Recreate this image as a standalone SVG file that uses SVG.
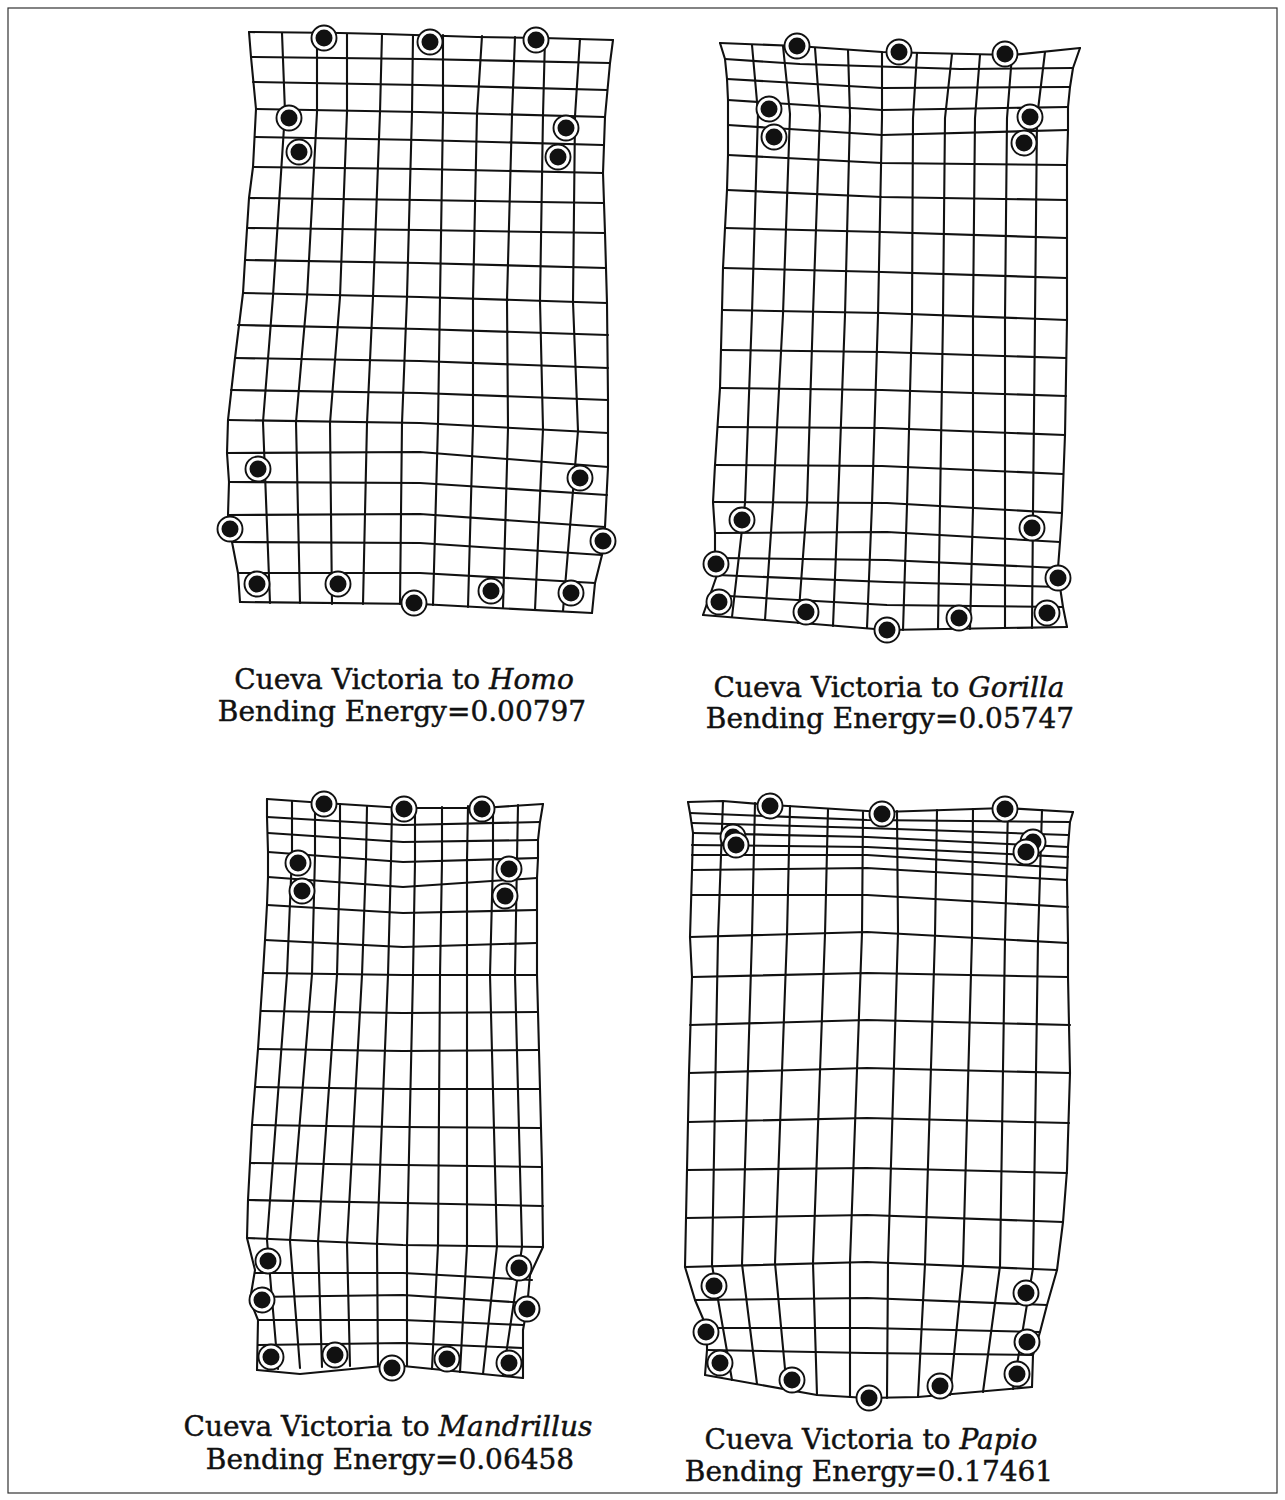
<svg xmlns="http://www.w3.org/2000/svg" xmlns:xlink="http://www.w3.org/1999/xlink" width="1285" height="1500" viewBox="0 0 1285 1500">
<style>
.g path{fill:none;stroke:#111;stroke-width:2.1;stroke-linejoin:round;stroke-linecap:round}
.cap{font-family:"DejaVu Serif","Liberation Serif",serif;font-size:28px;fill:#111;stroke:#111;stroke-width:0.45;text-anchor:middle}
.it{font-style:italic}
</style>
<defs>
<g id="lm"><circle r="12.5" fill="#fff" stroke="#111" stroke-width="1.9"/><circle r="8.5" fill="#111"/></g>
</defs>
<rect x="0" y="0" width="1285" height="1500" fill="#fff"/>
<rect x="8" y="8" width="1269" height="1485" fill="none" stroke="#333" stroke-width="1.2"/>

<g id="grid-homo">
<g class="g">
<path d="M249,32 L340,33 L383,34 L477,37 L543,38 L613,40"/>
<path d="M251,57 L420,59 L610,63"/>
<path d="M253,82 L420,85 L607,90"/>
<path d="M256,109 L420,112 L605,117"/>
<path d="M255,137 L420,140 L603,145"/>
<path d="M253,167 L420,169 L603,173"/>
<path d="M249,198 L420,200 L603,203"/>
<path d="M248,228 L420,230 L605,233"/>
<path d="M245,260 L420,263 L606,268"/>
<path d="M243,293 L420,297 L607,303"/>
<path d="M238,325 L420,329 L608,335"/>
<path d="M235,358 L420,361 L608,368"/>
<path d="M231,390 L420,393 L608,400"/>
<path d="M228,420 L420,423 L608,433"/>
<path d="M227,453 L420,452 L608,467"/>
<path d="M229,482 L420,483 L607,495"/>
<path d="M228,515 L420,514 L605,527"/>
<path d="M232,542 L420,543 L602,555"/>
<path d="M238,573 L420,573 L595,583"/>
<path d="M240,602 L420,604 L592,613"/>
<path d="M249,32 L251,57 L256,109 L253,167 L249,198 L245,260 L243,293 L235,358 L228,420 L227,453 L229,482 L228,515 L232,542 L238,573 L240,602"/>
<path d="M282,33 L285,112 L273,296 L263,422 L270,603"/>
<path d="M317,33 L317,112 L307,297 L296,422 L300,603"/>
<path d="M347,34 L347,112 L340,297 L330,423 L332,604"/>
<path d="M382,34 L380,112 L373,297 L367,423 L363,604"/>
<path d="M413,35 L412,112 L407,297 L402,423 L400,604"/>
<path d="M443,35 L443,113 L440,298 L438,424 L433,605"/>
<path d="M482,36 L477,114 L473,299 L473,426 L468,607"/>
<path d="M515,37 L512,115 L507,300 L508,428 L503,608"/>
<path d="M545,38 L543,115 L540,301 L543,429 L535,610"/>
<path d="M580,39 L575,116 L573,302 L578,431 L563,611"/>
<path d="M613,40 L610,63 L605,117 L603,173 L605,233 L607,303 L608,400 L608,467 L605,527 L602,555 L595,583 L592,613"/>
</g>
<g class="lms">
<use href="#lm" x="324" y="38"/><use href="#lm" x="430" y="42"/><use href="#lm" x="536" y="40"/>
<use href="#lm" x="289" y="118"/><use href="#lm" x="299" y="152"/><use href="#lm" x="566" y="128"/><use href="#lm" x="558" y="157"/>
<use href="#lm" x="258" y="469"/><use href="#lm" x="580" y="478"/><use href="#lm" x="230" y="529"/><use href="#lm" x="603" y="541"/>
<use href="#lm" x="257" y="584"/><use href="#lm" x="338" y="584"/><use href="#lm" x="414" y="603"/><use href="#lm" x="491" y="591"/><use href="#lm" x="571" y="593"/>
</g>
<text class="cap" x="404" y="689">Cueva Victoria to <tspan class="it">Homo</tspan></text>
<text class="cap" x="402" y="721">Bending Energy=0.00797</text>
</g>

<g id="grid-gorilla">
<g class="g">
<path d="M720,43 L797,46 L882,52 L1012,55 L1080,48"/>
<path d="M725,59 L800,64 L960,69 L1073,68"/>
<path d="M727,79 L882,88 L1070,87"/>
<path d="M728,100 L882,110 L1068,107"/>
<path d="M728,125 L882,135 L1068,130"/>
<path d="M728,155 L882,163 L1067,165"/>
<path d="M727,190 L882,197 L1067,200"/>
<path d="M725,228 L882,232 L1067,238"/>
<path d="M723,268 L882,272 L1067,278"/>
<path d="M722,310 L882,313 L1067,320"/>
<path d="M721,350 L882,352 L1066,358"/>
<path d="M720,388 L882,390 L1066,396"/>
<path d="M718,427 L882,428 L1065,435"/>
<path d="M715,465 L882,466 L1063,474"/>
<path d="M713,502 L887,503 L1062,513"/>
<path d="M715,533 L887,532 L1060,542"/>
<path d="M715,558 L887,560 L1058,568"/>
<path d="M717,575 L887,582 L1060,587"/>
<path d="M710,595 L887,605 L1063,607"/>
<path d="M703,615 L887,630 L1067,627"/>
<path d="M720,43 L725,59 L727,79 L728,100 L728,125 L728,155 L727,190 L725,228 L723,268 L722,310 L720,388 L715,465 L713,502 L715,533 L715,558 L717,575 L710,595 L703,615"/>
<path d="M752,45 L758,113 L752,313 L745,503 L732,617"/>
<path d="M783,46 L790,114 L783,314 L773,503 L765,620"/>
<path d="M815,48 L820,115 L813,314 L807,503 L798,623"/>
<path d="M848,50 L850,116 L845,315 L838,504 L833,626"/>
<path d="M882,52 L882,117 L878,316 L872,504 L867,628"/>
<path d="M917,53 L913,118 L912,317 L907,505 L903,630"/>
<path d="M952,54 L945,118 L943,317 L940,507 L938,629"/>
<path d="M980,55 L975,118 L973,318 L973,508 L970,629"/>
<path d="M1012,55 L1007,118 L1005,318 L1005,509 L1005,628"/>
<path d="M1045,52 L1037,118 L1035,319 L1033,511 L1032,628"/>
<path d="M1080,48 L1073,68 L1070,87 L1068,107 L1068,130 L1067,165 L1067,238 L1067,320 L1065,435 L1062,513 L1060,542 L1058,568 L1060,587 L1063,607 L1067,627"/>
</g>
<g class="lms">
<use href="#lm" x="797" y="46"/><use href="#lm" x="899" y="52"/><use href="#lm" x="1005" y="54"/>
<use href="#lm" x="769" y="109"/><use href="#lm" x="774" y="137"/><use href="#lm" x="1030" y="117"/><use href="#lm" x="1024" y="143"/>
<use href="#lm" x="742" y="520"/><use href="#lm" x="1032" y="528"/><use href="#lm" x="716" y="564"/><use href="#lm" x="1058" y="578"/>
<use href="#lm" x="719" y="602"/><use href="#lm" x="806" y="612"/><use href="#lm" x="887" y="630"/><use href="#lm" x="959" y="618"/><use href="#lm" x="1047" y="613"/>
</g>
<text class="cap" x="889" y="697">Cueva Victoria to <tspan class="it">Gorilla</tspan></text>
<text class="cap" x="890" y="728">Bending Energy=0.05747</text>
</g>

<g id="grid-mandrillus">
<g class="g">
<path d="M267,799 L324,803 L403,808 L482,808 L543,804"/>
<path d="M267,817 L403,825 L540,822"/>
<path d="M268,833 L403,842 L538,840"/>
<path d="M268,852 L403,862 L538,858"/>
<path d="M268,877 L403,887 L537,878"/>
<path d="M267,905 L403,913 L537,910"/>
<path d="M265,940 L403,947 L537,943"/>
<path d="M263,973 L403,975 L537,975"/>
<path d="M261,1011 L403,1013 L538,1012"/>
<path d="M258,1049 L403,1051 L539,1050"/>
<path d="M255,1087 L403,1089 L540,1089"/>
<path d="M252,1125 L403,1127 L541,1128"/>
<path d="M250,1163 L403,1165 L542,1167"/>
<path d="M248,1200 L403,1203 L543,1206"/>
<path d="M247,1238 L403,1245 L543,1247"/>
<path d="M255,1273 L403,1273 L532,1280"/>
<path d="M252,1297 L403,1295 L527,1303"/>
<path d="M258,1320 L403,1320 L523,1325"/>
<path d="M258,1345 L403,1343 L523,1348"/>
<path d="M257,1370 L300,1374 L393,1365 L523,1378"/>
<path d="M267,799 L267,817 L268,852 L268,877 L267,905 L265,940 L263,973 L258,1049 L252,1125 L248,1200 L247,1238 L255,1270 L250,1300 L258,1320 L257,1370"/>
<path d="M292,801 L292,855 L287,974 L267,1240 L278,1369"/>
<path d="M315,802 L315,856 L312,974 L290,1241 L300,1368"/>
<path d="M340,804 L340,858 L337,975 L318,1242 L322,1367"/>
<path d="M367,806 L366,860 L362,975 L347,1243 L350,1366"/>
<path d="M392,807 L391,861 L388,975 L377,1244 L378,1365"/>
<path d="M415,808 L415,862 L413,975 L407,1245 L407,1366"/>
<path d="M442,807 L442,861 L440,975 L438,1245 L432,1369"/>
<path d="M468,806 L467,860 L467,975 L467,1246 L460,1372"/>
<path d="M493,805 L493,859 L490,975 L497,1246 L483,1374"/>
<path d="M518,805 L517,859 L515,975 L522,1247 L503,1375"/>
<path d="M543,804 L540,822 L538,840 L538,858 L537,878 L537,910 L537,943 L537,975 L538,1012 L540,1089 L542,1167 L543,1247 L530,1275 L527,1308 L523,1330 L523,1378"/>
</g>
<g class="lms">
<use href="#lm" x="324" y="804"/><use href="#lm" x="404" y="809"/><use href="#lm" x="482" y="809"/>
<use href="#lm" x="298" y="863"/><use href="#lm" x="302" y="891"/><use href="#lm" x="509" y="869"/><use href="#lm" x="505" y="896"/>
<use href="#lm" x="268" y="1261"/><use href="#lm" x="519" y="1268"/><use href="#lm" x="262" y="1300"/><use href="#lm" x="527" y="1309"/>
<use href="#lm" x="271" y="1357"/><use href="#lm" x="335" y="1355"/><use href="#lm" x="392" y="1368"/><use href="#lm" x="447" y="1359"/><use href="#lm" x="509" y="1363"/>
</g>
<text class="cap" x="388" y="1436">Cueva Victoria to <tspan class="it">Mandrillus</tspan></text>
<text class="cap" x="390" y="1469">Bending Energy=0.06458</text>
</g>

<g id="grid-papio">
<g class="g">
<path d="M688,802 L723,801 L772,805 L883,812 L1005,808 L1073,812"/>
<path d="M690,813 L867,820 L1070,822"/>
<path d="M692,823 L867,828 L1068,835"/>
<path d="M693,833 L867,837 L1068,847"/>
<path d="M692,845 L867,847 L1068,857"/>
<path d="M692,855 L867,855 L1067,868"/>
<path d="M692,870 L867,868 L1067,880"/>
<path d="M692,895 L867,895 L1068,907"/>
<path d="M690,937 L867,932 L1068,943"/>
<path d="M692,977 L867,973 L1068,977"/>
<path d="M690,1025 L867,1020 L1070,1025"/>
<path d="M689,1073 L867,1068 L1070,1073"/>
<path d="M688,1122 L867,1118 L1069,1123"/>
<path d="M687,1170 L867,1168 L1067,1173"/>
<path d="M686,1218 L867,1215 L1063,1222"/>
<path d="M685,1267 L867,1262 L1057,1270"/>
<path d="M695,1300 L867,1298 L1047,1305"/>
<path d="M707,1328 L867,1328 L1040,1332"/>
<path d="M707,1350 L867,1353 L1033,1355"/>
<path d="M705,1375 L817,1395 L867,1398 L918,1397 L1032,1387"/>
<path d="M688,802 L690,813 L693,833 L692,870 L690,937 L692,977 L689,1073 L687,1170 L685,1267 L695,1300 L707,1328 L707,1350 L705,1375"/>
<path d="M723,801 L718,937 L712,1265 L732,1380"/>
<path d="M755,803 L752,936 L742,1264 L757,1384"/>
<path d="M790,806 L787,935 L775,1263 L787,1390"/>
<path d="M828,809 L825,934 L813,1263 L817,1395"/>
<path d="M863,812 L862,933 L850,1262 L850,1397"/>
<path d="M897,811 L898,933 L888,1263 L887,1398"/>
<path d="M937,810 L935,935 L925,1264 L918,1397"/>
<path d="M973,809 L972,937 L963,1265 L950,1395"/>
<path d="M1008,808 L1005,938 L1000,1266 L983,1392"/>
<path d="M1042,810 L1038,940 L1033,1268 L1013,1389"/>
<path d="M1073,812 L1070,822 L1068,847 L1067,880 L1068,943 L1068,977 L1070,1073 L1067,1170 L1063,1222 L1057,1270 L1047,1305 L1040,1332 L1033,1355 L1032,1387"/>
</g>
<g class="lms">
<use href="#lm" x="770" y="806"/><use href="#lm" x="882" y="814"/><use href="#lm" x="1005" y="809"/>
<use href="#lm" x="733" y="837"/><use href="#lm" x="736" y="845"/><use href="#lm" x="1033" y="842"/><use href="#lm" x="1026" y="852"/>
<use href="#lm" x="714" y="1286"/><use href="#lm" x="1026" y="1293"/><use href="#lm" x="706" y="1332"/><use href="#lm" x="1027" y="1342"/>
<use href="#lm" x="720" y="1363"/><use href="#lm" x="792" y="1380"/><use href="#lm" x="869" y="1398"/><use href="#lm" x="940" y="1386"/><use href="#lm" x="1017" y="1374"/>
</g>
<text class="cap" x="871" y="1449">Cueva Victoria to <tspan class="it">Papio</tspan></text>
<text class="cap" x="869" y="1481">Bending Energy=0.17461</text>
</g>
</svg>
